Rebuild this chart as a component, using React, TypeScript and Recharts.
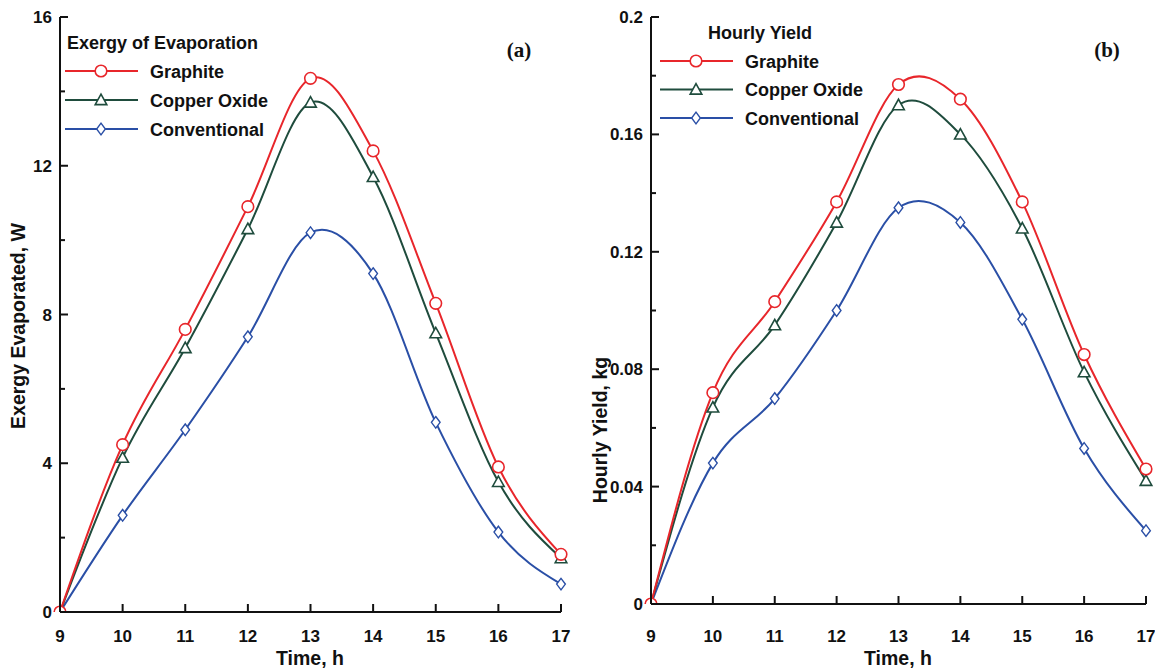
import React from 'react'
import { LineChart, Line, XAxis, YAxis } from 'recharts'

const hours = [9, 10, 11, 12, 13, 14, 15, 16, 17]

// panel (a) exergy of evaporation, W
const exergyGraphite = [0, 4.5, 7.6, 10.9, 14.35, 12.4, 8.3, 3.9, 1.55]
const exergyCopper = [0, 4.15, 7.1, 10.3, 13.7, 11.7, 7.5, 3.5, 1.45]
const exergyConventional = [0, 2.6, 4.9, 7.4, 10.2, 9.1, 5.1, 2.15, 0.75]

// panel (b) hourly yield, kg
const yieldGraphite = [0, 0.072, 0.103, 0.137, 0.177, 0.172, 0.137, 0.085, 0.046]
const yieldCopper = [0, 0.067, 0.095, 0.13, 0.17, 0.16, 0.128, 0.079, 0.042]
const yieldConventional = [0, 0.048, 0.07, 0.1, 0.135, 0.13, 0.097, 0.053, 0.025]

const exergyTicks = [0, 2, 4, 6, 8, 10, 12, 14, 16]
const exergyLabels = [0, 4, 8, 12, 16]
const yieldTicks = [0, 0.02, 0.04, 0.06, 0.08, 0.1, 0.12, 0.14, 0.16, 0.18, 0.2]
const yieldLabels = [0, 0.04, 0.08, 0.12, 0.16, 0.2]

const RED = '#e8262b'
const GREEN = '#1f4c3d'
const BLUE = '#2a4fa6'
const FONT = '"Liberation Sans", Arial, sans-serif'

const exergyData = hours.map((h, i) => ({
  hour: h,
  graphite: exergyGraphite[i],
  copper: exergyCopper[i],
  conventional: exergyConventional[i]
}))

const yieldData = hours.map((h, i) => ({
  hour: h,
  graphite: yieldGraphite[i],
  copper: yieldCopper[i],
  conventional: yieldConventional[i]
}))

// catmull-rom style spline with natural-ish end tangents, like the origin smoothing
class SmoothCurve {
  _context: any
  _pts: number[][] = []
  constructor(context: any) { this._context = context }
  areaStart() {}
  areaEnd() {}
  lineStart() { this._pts = [] }
  point(x: number, y: number) { this._pts.push([+x, +y]) }
  lineEnd() {
    const p = this._pts
    const n = p.length
    const ctx = this._context
    if (!n) return
    ctx.moveTo(p[0][0], p[0][1])
    if (n === 1) return
    if (n === 2) { ctx.lineTo(p[1][0], p[1][1]); return }
    const m: number[][] = p.map(() => [0, 0])
    for (let i = 1; i < n - 1; i++) {
      m[i] = [(p[i + 1][0] - p[i - 1][0]) / 2, (p[i + 1][1] - p[i - 1][1]) / 2]
    }
    m[0] = [0, 1].map(k => (3 * (p[1][k] - p[0][k]) - m[1][k]) / 2)
    m[n - 1] = [0, 1].map(k => (3 * (p[n - 1][k] - p[n - 2][k]) - m[n - 2][k]) / 2)
    for (let i = 0; i < n - 1; i++) {
      ctx.bezierCurveTo(
        p[i][0] + m[i][0] / 3, p[i][1] + m[i][1] / 3,
        p[i + 1][0] - m[i + 1][0] / 3, p[i + 1][1] - m[i + 1][1] / 3,
        p[i + 1][0], p[i + 1][1]
      )
    }
  }
}
const curveSmooth: any = (context: any) => new SmoothCurve(context)

type Shape = 'circle' | 'triangle' | 'diamond'

const Marker = ({ cx, cy, shape, color }: { cx: number, cy: number, shape: Shape, color: string }) => {
  if (shape === 'circle') {
    return <circle cx={cx} cy={cy} r={5.8} fill="#fff" stroke={color} strokeWidth={1.6} />
  }
  if (shape === 'triangle') {
    const s = 5.8
    return (
      <polygon
        points={`${cx},${cy - s} ${cx - s},${cy + s * 0.8} ${cx + s},${cy + s * 0.8}`}
        fill="#fff" stroke={color} strokeWidth={1.6}
      />
    )
  }
  const d = 5.8
  return (
    <polygon
      points={`${cx},${cy - d} ${cx + d * 0.75},${cy} ${cx},${cy + d} ${cx - d * 0.75},${cy}`}
      fill="#fff" stroke={color} strokeWidth={1.4}
    />
  )
}

const dotFor = (shape: Shape, color: string) => (props: any) => (
  <Marker key={`${shape}-${props.index}`} cx={props.cx} cy={props.cy} shape={shape} color={color} />
)

const makeYTick = (labels: number[]) => (props: any) => {
  const { x, y, payload } = props
  const major = labels.includes(payload.value)
  return (
    <g>
      <line x1={x} x2={x + (major ? 8 : 5)} y1={y} y2={y} stroke="#111" strokeWidth={2} />
      {major && (
        <text x={x - 8} y={y} dy={6} textAnchor="end" fontFamily={FONT} fontWeight="bold" fontSize={17} fill="#111">
          {String(payload.value)}
        </text>
      )}
    </g>
  )
}

const makeXTick = (gap: number) => (props: any) => {
  const { x, y, payload } = props
  return (
    <g>
      <line x1={x} x2={x} y1={y} y2={y - 8} stroke="#111" strokeWidth={2} />
      <text x={x} y={y + gap} textAnchor="middle" fontFamily={FONT} fontWeight="bold" fontSize={17} fill="#111">
        {payload.value}
      </text>
    </g>
  )
}

const axisStroke = { stroke: '#111', strokeWidth: 2 }

interface PanelProps {
  data: any[]
  yDomain: [number, number]
  yTicks: number[]
  yLabels: number[]
  yWidth: number
  rightMargin: number
  xHeight: number
  xGap: number
}

function Panel({ data, yDomain, yTicks, yLabels, yWidth, rightMargin, xHeight, xGap }: PanelProps) {
  return (
    <LineChart
      width={575}
      height={672}
      data={data}
      margin={{ top: 17, right: rightMargin, bottom: 20, left: 0 }}
    >
      <XAxis
        dataKey="hour"
        type="number"
        domain={[9, 17]}
        ticks={hours}
        height={xHeight}
        tickSize={0}
        tickMargin={0}
        tickLine={false}
        axisLine={axisStroke}
        tick={makeXTick(xGap)}
        interval={0}
      />
      <XAxis xAxisId="top" dataKey="hour" type="number" domain={[9, 17]} orientation="top" height={0} tick={false} tickLine={false} axisLine={axisStroke} />
      <YAxis
        type="number"
        domain={yDomain}
        ticks={yTicks}
        width={yWidth}
        tickSize={0}
        tickMargin={0}
        tickLine={false}
        axisLine={axisStroke}
        tick={makeYTick(yLabels)}
        interval={0}
        allowDataOverflow
      />
      <YAxis yAxisId="right" orientation="right" domain={yDomain} width={0} tick={false} tickLine={false} axisLine={axisStroke} />
      <Line type={curveSmooth} dataKey="conventional" stroke={BLUE} strokeWidth={2} dot={dotFor('diamond', BLUE)} isAnimationActive={false} />
      <Line type={curveSmooth} dataKey="copper" stroke={GREEN} strokeWidth={2} dot={dotFor('triangle', GREEN)} isAnimationActive={false} />
      <Line type={curveSmooth} dataKey="graphite" stroke={RED} strokeWidth={2} dot={dotFor('circle', RED)} isAnimationActive={false} />
    </LineChart>
  )
}

const legendRows: { name: string, shape: Shape, color: string }[] = [
  { name: 'Graphite', shape: 'circle', color: RED },
  { name: 'Copper Oxide', shape: 'triangle', color: GREEN },
  { name: 'Conventional', shape: 'diamond', color: BLUE }
]

function LegendBlock({ title, titleX, titleY, lineX, rowY, rowGap }: { title: string, titleX: number, titleY: number, lineX: number, rowY: number, rowGap: number }) {
  return (
    <g fontFamily={FONT} fontWeight="bold" fontSize={18} fill="#111">
      <text x={titleX} y={titleY + 6.5}>{title}</text>
      {legendRows.map((r, i) => {
        const y = rowY + i * rowGap
        return (
          <g key={r.name}>
            <line x1={lineX} x2={lineX + 73} y1={y} y2={y} stroke={r.color} strokeWidth={2.2} />
            <Marker cx={lineX + 36} cy={y} shape={r.shape} color={r.color} />
            <text x={lineX + 85} y={y + 6.5}>{r.name}</text>
          </g>
        )
      })}
    </g>
  )
}

export default function App() {
  return (
    <div style={{ position: 'absolute', left: 0, top: 0, width: 1155, height: 672, background: '#fff' }}>
      <div style={{ position: 'absolute', left: 0, top: 0 }}>
        <Panel data={exergyData} yDomain={[0, 16]} yTicks={exergyTicks} yLabels={exergyLabels}
          yWidth={60} rightMargin={14} xHeight={40} xGap={30} />
      </div>
      <div style={{ position: 'absolute', left: 580, top: 0 }}>
        <Panel data={yieldData} yDomain={[0, 0.2]} yTicks={yieldTicks} yLabels={yieldLabels}
          yWidth={71} rightMargin={9} xHeight={48} xGap={38} />
      </div>
      <svg width={1155} height={672} style={{ position: 'absolute', left: 0, top: 0, pointerEvents: 'none' }}>
        <LegendBlock title="Exergy of Evaporation" titleX={67} titleY={42} lineX={65} rowY={71} rowGap={29} />
        <LegendBlock title="Hourly Yield" titleX={708} titleY={32} lineX={660} rowY={61} rowGap={28.5} />
        <text x={519} y={57} textAnchor="middle" fontFamily='"Liberation Serif", "Times New Roman", serif' fontWeight="bold" fontSize={21} fill="#111">(a)</text>
        <text x={1107} y={57} textAnchor="middle" fontFamily='"Liberation Serif", "Times New Roman", serif' fontWeight="bold" fontSize={21} fill="#111">(b)</text>
        <g fontFamily={FONT} fontWeight="bold" fontSize={19.5} fill="#111" textAnchor="middle">
          <text x={310} y={665}>Time, h</text>
          <text x={898} y={665}>Time, h</text>
          <text transform="translate(25, 326) rotate(-90)">Exergy Evaporated, W</text>
          <text transform="translate(607, 430) rotate(-90)">Hourly Yield, kg</text>
        </g>
      </svg>
    </div>
  )
}
